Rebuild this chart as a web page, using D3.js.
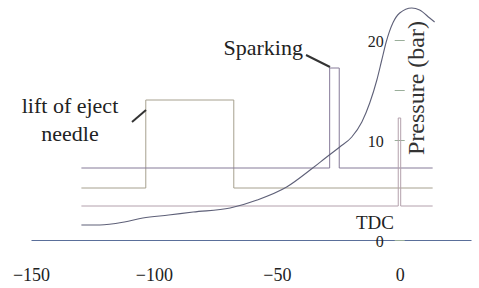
<!DOCTYPE html>
<html>
<head>
<meta charset="utf-8">
<script src="https://cdn.jsdelivr.net/npm/d3@7"></script>
<style>
  body { margin: 0; background: #fff; }
  svg { display: block; }
</style>
</head>
<body>
<svg id="chart" width="479" height="288"></svg>
<script>
// crank angle (deg) and cylinder pressure (bar)
const angle    = [-129.5, -122, -112, -104.5, -94, -84, -69, -58, -46, -35.4, -29.7, -24.4, -19.5, -15.4, -12.2, -9.3, -7.3, -5.5, -2.8, 0, 4.9, 8.1, 12.2, 14.2];
const pressure = [1.5, 1.5, 1.8, 2.2, 2.5, 2.8, 3.2, 4.0, 5.3, 7.2, 8.3, 9.3, 10.3, 11.8, 13.7, 16.0, 18.0, 19.8, 21.7, 22.7, 23.2, 23.0, 22.2, 21.8];

// step signals: [rise, fall] angles and [low, high] levels
const signalStart = -129.5, signalEnd = 13.4;
const liftEdges  = [-103.3, -67.5], liftLevels  = [5.2, 14];
const sparkEdges = [-28.5, -24.6],  sparkLevels = [7.2, 17.2];
const tdcEdges   = [-0.6, 0.4],     tdcLevels   = [3.4, 12.2];

const xTicks = [-150, -100, -50, 0];
const pTicks = [0, 10, 15, 20];

const serif = "'Liberation Serif'";
const svg = d3.select("#chart");

const x = d3.scaleLinear().domain([-150, 29]).range([31, 471]);
const y = d3.scaleLinear().domain([0, 24]).range([240, 0]);

// x axis
const xAxis = svg.append("g")
  .attr("transform", "translate(0,240)")
  .call(d3.axisBottom(x).tickValues(xTicks).tickSize(0).tickPadding(28).tickFormat(d3.format("d")));
xAxis.attr("font-family", null).attr("font-size", null);
xAxis.select(".domain").attr("stroke", "#5a6f9a").attr("stroke-width", 1.2);
xAxis.selectAll("text").attr("fill", "#222")
  .style("font-family", serif).style("font-size", "18px");

// pressure axis
const pAxis = svg.append("g")
  .attr("transform", "translate(" + (x(0) + 5) + ",0)")
  .call(d3.axisLeft(y).tickValues(pTicks).tickSize(10).tickPadding(11)
    .tickFormat(d => d === 15 ? "" : d));
pAxis.attr("font-family", null).attr("font-size", null);
pAxis.select(".domain").remove();
pAxis.selectAll("line").attr("stroke", "#9aae9a");
pAxis.selectAll("text").attr("fill", "#222").attr("dy", "0.4em")
  .style("font-family", serif).style("font-size", "16px");

function label(xp, yp, txt, size, anchor) {
  return svg.append("text").attr("x", xp).attr("y", yp)
    .attr("text-anchor", anchor || "middle").attr("fill", "#222")
    .style("font-family", serif).style("font-size", size + "px")
    .text(txt);
}

label(0, 0, "Pressure (bar)", 24)
  .attr("transform", "translate(424,88) rotate(-90)")
  .attr("fill", "#333");

const line = d3.line().x(d => x(d[0])).y(d => y(d[1]));

function stepPoints(edges, levels) {
  return [
    [signalStart, levels[0]], [edges[0], levels[0]], [edges[0], levels[1]],
    [edges[1], levels[1]], [edges[1], levels[0]], [signalEnd, levels[0]]
  ];
}

const signals = [
  { pts: stepPoints(liftEdges, liftLevels), color: "#a6a08e" },
  { pts: stepPoints(sparkEdges, sparkLevels), color: "#857a98" },
  { pts: stepPoints(tdcEdges, tdcLevels), color: "#b3a0ac" }
];

svg.selectAll(".signal")
  .data(signals)
  .enter()
  .append("path")
  .attr("class", "signal")
  .attr("d", d => line(d.pts))
  .attr("fill", "none")
  .attr("stroke", d => d.color)
  .attr("stroke-width", 1);

// pressure curve
svg.append("path")
  .attr("d", d3.line().x(d => x(d[0])).y(d => y(d[1])).curve(d3.curveMonotoneX)(angle.map((a, i) => [a, pressure[i]])))
  .attr("fill", "none")
  .attr("stroke", "#5e6078")
  .attr("stroke-width", 1.1);

// annotations
label(70, 113, "lift of eject", 22);
label(70, 141, "needle", 22);
svg.append("line").attr("x1", 132).attr("y1", 122).attr("x2", 146).attr("y2", 110)
  .attr("stroke", "#333").attr("stroke-width", 2);

label(303, 55, "Sparking", 22, "end");
svg.append("line").attr("x1", 306).attr("y1", 55).attr("x2", 330).attr("y2", 67)
  .attr("stroke", "#333").attr("stroke-width", 2);

label(375, 229, "TDC", 19);
</script>
</body>
</html>
